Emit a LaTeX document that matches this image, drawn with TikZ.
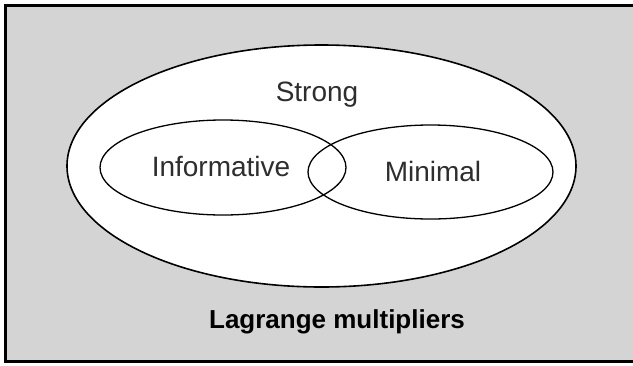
\documentclass[tikz,border=0pt]{standalone}
\usepackage{fontspec}
\setmainfont{Liberation Sans}
\definecolor{bggray}{HTML}{D4D4D4}
\definecolor{txtgray}{HTML}{2E2E2E}
\begin{document}
\begin{tikzpicture}[x=1pt,y=-1pt,
  outline/.style={draw=black,line width=1.6pt},
  label/.style={font=\fontsize{28}{30}\selectfont,text=txtgray,inner sep=0pt}]
\useasboundingbox (0,0) rectangle (633,365);
\fill[bggray] (5,5) rectangle (640,361);
\draw[line width=3pt] (640,5) -- (5,5) -- (5,361) -- (640,361);
\draw[outline,fill=white] (321.5,166) ellipse [x radius=254.5, y radius=121];
\draw[outline,line width=1.3pt] (223,167.5) ellipse [x radius=123, y radius=47.5];
\draw[outline,line width=1.3pt] (430.5,172) ellipse [x radius=122.5, y radius=47];
\node[label] (strong) at (317,95) {Strong};
\node[label] (inf) at (221,166) {Informative};
\node[label] (min) at (433,171) {Minimal};
\node[label,text=black,font=\fontsize{26}{28}\selectfont\bfseries] (lag) at (337,322) {Lagrange multipliers};
\end{tikzpicture}
\end{document}
